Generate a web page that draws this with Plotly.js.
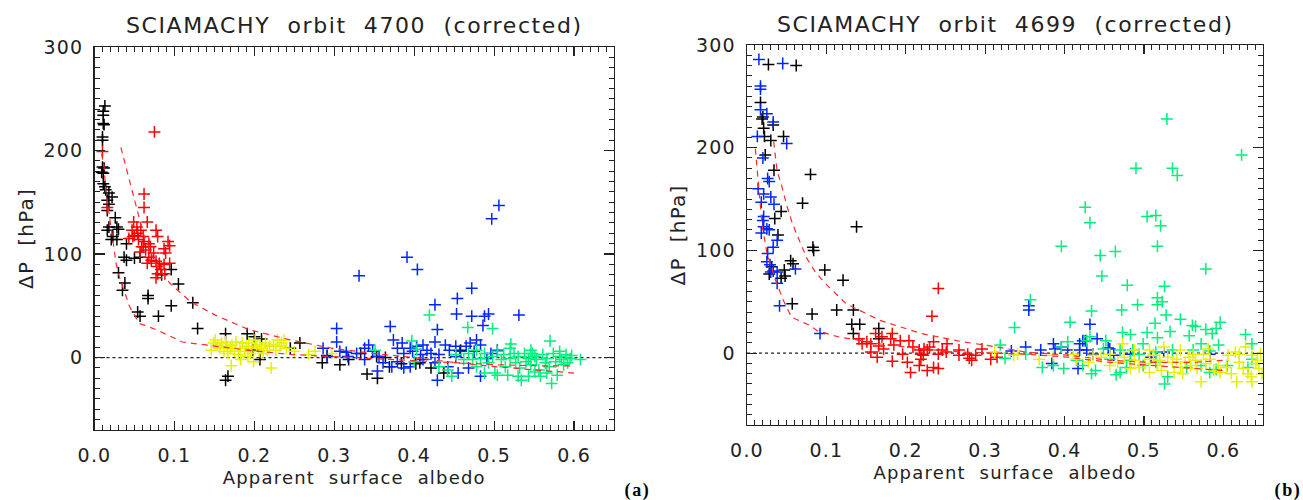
<!DOCTYPE html>
<html>
<head>
<meta charset="utf-8">
<script src="https://cdn.plot.ly/plotly-3.0.1.min.js"></script>
<style>
html,body{margin:0;padding:0;background:#fff}
#chart{width:1303px;height:500px}
#chart text{letter-spacing:1.2px}
#chart .annotation-text{letter-spacing:1.6px}
</style>
</head>
<body>
<div id="chart"></div>
<script>
// ---------- Panel (a): orbit 4700 ----------
const a_black = [[0.013,243],[0.011,238],[0.011,234],[0.011,226],[0.012,225],[0.010,213],[0.010,210],[0.010,184],[0.012,183],[0.009,179],[0.011,178],[0.011,168],[0.013,165],[0.014,162],[0.018,159],[0.022,155],[0.016,152],[0.018,148],[0.016,142],[0.018,126],[0.016,123],[0.026,135],[0.028,126],[0.030,124],[0.023,117],[0.021,114],[0.028,114],[0.040,110],[0.037,97],[0.040,94],[0.050,96],[0.057,97],[0.030,82],[0.038,72],[0.035,65],[0.067,60],[0.067,57],[0.054,44],[0.057,40],[0.080,40],[0.096,85],[0.084,80],[0.105,71],[0.096,50],[0.123,53],[0.129,28],[0.164,23],[0.191,23],[0.200,20],[0.209,18],[0.257,14],[0.245,9],[0.198,7],[0.207,-2],[0.164,-22],[0.167,-18],[0.285,-5],[0.291,2],[0.307,-7],[0.318,-2],[0.333,4],[0.341,-16],[0.354,-20],[0.369,-9],[0.384,-6],[0.402,-6],[0.407,-5],[0.421,-10],[0.437,-15],[0.458,7],[0.353,1],[0.364,0]];
const a_red = [[0.075,218],[0.010,199],[0.062,158],[0.062,145],[0.049,131],[0.066,131],[0.047,123],[0.053,126],[0.058,123],[0.050,118],[0.061,117],[0.077,123],[0.079,117],[0.092,112],[0.094,108],[0.048,117],[0.055,114],[0.061,107],[0.064,104],[0.070,107],[0.074,101],[0.068,97],[0.057,102],[0.062,112],[0.087,105],[0.089,101],[0.077,93],[0.081,91],[0.087,90],[0.094,91],[0.078,88],[0.071,94],[0.066,91],[0.079,81],[0.083,85],[0.077,77],[0.088,81],[0.068,110],[0.054,120],[0.059,107],[0.043,115],[0.016,145]];
const a_yellow = [[0.146,7],[0.149,14],[0.151,17],[0.154,12],[0.157,9],[0.159,14],[0.162,6],[0.164,15],[0.166,11],[0.167,4],[0.170,9],[0.171,-8],[0.172,12],[0.175,6],[0.177,15],[0.180,3],[0.182,9],[0.183,-2],[0.185,14],[0.188,6],[0.190,11],[0.192,1],[0.193,14],[0.195,4],[0.197,9],[0.199,-4],[0.201,17],[0.203,11],[0.206,6],[0.207,12],[0.209,9],[0.211,4],[0.214,14],[0.216,7],[0.219,11],[0.221,-10],[0.224,12],[0.227,7],[0.229,17],[0.232,11],[0.234,14],[0.237,17],[0.240,9],[0.250,6],[0.268,3],[0.276,6],[0.297,4]];
const a_blue = [[0.506,147],[0.497,134],[0.391,97],[0.404,85],[0.331,79],[0.472,67],[0.454,57],[0.426,51],[0.453,42],[0.429,27],[0.472,40],[0.488,40],[0.493,42],[0.486,31],[0.531,41],[0.370,30],[0.303,28],[0.303,15],[0.291,1],[0.286,9],[0.307,6],[0.315,5],[0.328,4],[0.338,9],[0.343,12],[0.348,6],[0.356,1],[0.374,17],[0.379,9],[0.385,14],[0.387,4],[0.395,9],[0.398,6],[0.403,11],[0.411,12],[0.416,7],[0.421,4],[0.426,15],[0.439,12],[0.444,7],[0.457,6],[0.465,11],[0.470,14],[0.478,17],[0.483,12],[0.475,6],[0.452,1],[0.442,-9],[0.455,-15],[0.429,-22],[0.468,-10],[0.483,-18],[0.426,-5],[0.411,-2],[0.395,-9],[0.379,-4],[0.372,-9],[0.361,-5],[0.354,-13],[0.338,-2],[0.317,1],[0.387,-10],[0.408,3],[0.431,3],[0.496,4],[0.491,-1],[0.504,7],[0.452,11]];
const a_green = [[0.419,41],[0.467,29],[0.498,28],[0.570,16],[0.397,16],[0.521,13],[0.351,7],[0.403,8],[0.452,3],[0.462,-2],[0.468,4],[0.478,7],[0.483,-1],[0.488,4],[0.493,-5],[0.498,1],[0.504,6],[0.509,-2],[0.512,3],[0.514,-9],[0.517,-17],[0.520,-1],[0.525,4],[0.527,-5],[0.530,1],[0.532,-10],[0.534,-22],[0.538,4],[0.540,-4],[0.543,-1],[0.546,-7],[0.548,4],[0.551,1],[0.553,-2],[0.556,-12],[0.558,-18],[0.561,3],[0.564,-5],[0.566,-1],[0.569,-9],[0.572,-25],[0.574,4],[0.577,-4],[0.579,-17],[0.582,1],[0.584,-2],[0.587,-7],[0.590,3],[0.592,-5],[0.595,-1],[0.597,2],[0.608,-2],[0.501,-15],[0.488,-15],[0.442,-12],[0.447,-18],[0.431,-9],[0.400,-4],[0.478,-9],[0.473,-2],[0.504,-17],[0.530,-18],[0.543,-18],[0.551,-14],[0.566,-15],[0.520,9],[0.546,7],[0.582,6]];
const a_curve_upper = [[0.033,203],[0.048,158],[0.061,120],[0.076,91],[0.094,72],[0.120,54],[0.151,41],[0.193,27],[0.245,17],[0.297,9],[0.348,4],[0.400,0],[0.452,-5],[0.504,-9],[0.556,-12],[0.600,-15]];
const a_curve_lower = [[0.009,197],[0.012,184],[0.014,162],[0.0185,136],[0.027,91],[0.031,78],[0.037,65],[0.044,49],[0.056,33],[0.077,27],[0.110,15],[0.151,11],[0.193,7],[0.245,3],[0.297,1],[0.348,-1],[0.400,-3],[0.452,-5],[0.504,-7],[0.556,-8],[0.597,-8]];

// ---------- Panel (b): orbit 4699 ----------
const b_black = [[0.027,281],[0.062,280],[0.017,244],[0.020,230],[0.019,228],[0.021,219],[0.022,211],[0.030,207],[0.033,222],[0.046,211],[0.023,193],[0.034,178],[0.080,174],[0.070,146],[0.043,138],[0.035,131],[0.039,115],[0.138,123],[0.083,103],[0.084,100],[0.098,81],[0.055,90],[0.058,87],[0.047,81],[0.048,75],[0.043,73],[0.031,84],[0.028,77],[0.121,71],[0.057,48],[0.082,38],[0.113,42],[0.134,42],[0.132,28],[0.142,28],[0.134,19],[0.166,24],[0.166,14]];
const b_blue = [[0.015,286],[0.045,282],[0.017,260],[0.017,257],[0.013,211],[0.050,204],[0.017,237],[0.025,233],[0.033,225],[0.020,190],[0.026,170],[0.028,167],[0.014,160],[0.030,152],[0.021,155],[0.034,145],[0.018,147],[0.021,133],[0.020,129],[0.021,123],[0.028,120],[0.025,121],[0.018,117],[0.038,110],[0.033,103],[0.025,89],[0.029,86],[0.026,97],[0.033,80],[0.038,79],[0.030,79],[0.038,68],[0.061,82],[0.041,46],[0.092,19],[0.355,42],[0.355,46],[0.333,2],[0.351,6],[0.370,3],[0.386,9],[0.388,4],[0.396,6],[0.404,3],[0.426,12],[0.428,3],[0.432,28],[0.441,14],[0.417,-15],[0.457,4],[0.436,-1],[0.462,-2],[0.483,-1],[0.509,-4],[0.583,-1],[0.525,1],[0.384,-10],[0.419,9],[0.423,12],[0.419,3],[0.455,5]];
const b_red = [[0.241,63],[0.233,36],[0.162,19],[0.170,16],[0.183,19],[0.193,12],[0.204,12],[0.151,11],[0.141,14],[0.145,9],[0.156,9],[0.166,7],[0.172,4],[0.181,14],[0.185,8],[0.209,6],[0.217,3],[0.223,4],[0.230,6],[0.235,11],[0.252,9],[0.246,3],[0.251,1],[0.267,3],[0.278,-1],[0.288,-2],[0.296,4],[0.307,-6],[0.315,-4],[0.164,-4],[0.183,-8],[0.202,-9],[0.206,-19],[0.217,-12],[0.219,-6],[0.222,-2],[0.219,-1],[0.227,-17],[0.235,-14],[0.241,-15],[0.196,-1],[0.267,-2],[0.283,-7],[0.280,-5],[0.241,-1],[0.227,3],[0.156,1]];
const b_green = [[0.529,228],[0.623,193],[0.490,180],[0.536,180],[0.542,173],[0.426,142],[0.432,127],[0.504,133],[0.515,134],[0.521,124],[0.396,104],[0.517,104],[0.445,95],[0.464,99],[0.578,82],[0.447,75],[0.479,66],[0.526,65],[0.357,52],[0.517,54],[0.517,47],[0.523,50],[0.492,47],[0.434,41],[0.472,42],[0.528,37],[0.407,30],[0.337,25],[0.546,33],[0.514,29],[0.533,21],[0.561,27],[0.565,26],[0.473,20],[0.483,18],[0.504,20],[0.517,15],[0.596,30],[0.591,24],[0.578,23],[0.586,19],[0.557,17],[0.628,18],[0.636,9],[0.432,16],[0.428,12],[0.452,12],[0.499,9],[0.572,9],[0.594,8],[0.319,8],[0.404,11],[0.396,6],[0.449,4],[0.470,3],[0.486,3],[0.494,-1],[0.515,1],[0.536,3],[0.562,3],[0.583,2],[0.372,-14],[0.386,-12],[0.399,-15],[0.423,-12],[0.434,-20],[0.439,-17],[0.465,-21],[0.470,-19],[0.526,-30],[0.530,-23],[0.554,-14],[0.583,-19],[0.591,-16],[0.572,-12],[0.515,-9],[0.499,-12],[0.483,-7],[0.478,-14],[0.325,-5],[0.631,-14],[0.636,-6],[0.605,-12],[0.457,-6],[0.415,-7],[0.351,-1]];
const b_yellow = [[0.312,1],[0.336,-2],[0.341,-1],[0.368,-6],[0.386,-2],[0.415,-6],[0.430,-9],[0.446,-4],[0.457,-12],[0.467,-9],[0.473,9],[0.475,-4],[0.488,-7],[0.494,-14],[0.501,-10],[0.507,-6],[0.512,-2],[0.517,-12],[0.520,-7],[0.525,6],[0.530,-4],[0.536,-9],[0.541,-6],[0.546,-14],[0.552,-9],[0.557,-4],[0.559,-12],[0.565,-7],[0.567,-15],[0.572,-28],[0.575,-1],[0.578,-10],[0.581,4],[0.588,-17],[0.594,-12],[0.596,-19],[0.604,-14],[0.610,-20],[0.615,1],[0.617,-28],[0.620,-9],[0.625,-15],[0.628,6],[0.631,-20],[0.635,-23],[0.636,-28],[0.641,-10],[0.645,-15],[0.647,0],[0.649,-20],[0.643,-7],[0.483,-15],[0.507,-19],[0.522,-17],[0.538,-19],[0.549,-20],[0.507,3],[0.488,3],[0.457,-1],[0.436,-2],[0.411,-1],[0.583,-6],[0.606,-2],[0.620,-1],[0.636,-2],[0.546,3],[0.562,-1]];
const b_curve_upper = [[0.0336,206],[0.038,177],[0.043,165],[0.050,144],[0.056,129],[0.063,115],[0.0756,92],[0.086,79],[0.0985,68],[0.125,48],[0.167,32],[0.220,19],[0.272,11],[0.315,6],[0.351,1],[0.404,-2],[0.457,-7],[0.509,-9],[0.562,-9],[0.600,-7]];
const b_curve_lower = [[0.0105,199],[0.0147,164],[0.019,125],[0.025,98],[0.035,73],[0.046,51],[0.056,35],[0.079,27],[0.088,22],[0.114,16],[0.167,9],[0.220,4],[0.272,1],[0.351,-1],[0.404,-4],[0.457,-9],[0.509,-12],[0.562,-15],[0.600,-17]];

const zeroLineX = [0, 0.65];
const xTickVals = [0, 0.1, 0.2, 0.3, 0.4, 0.5, 0.6];
const yTickVals = [0, 100, 200, 300];
const titles = ['SCIAMACHY  orbit  4700  (corrected)', 'SCIAMACHY  orbit  4699  (corrected)'];
const xTitle = 'Apparent  surface  albedo';
const yTitle = 'ΔP  [hPa]';
const panelLabels = ['(a)', '(b)'];

const COL = {black:'#000000', red:'#ff0000', yellow:'#e6f000', blue:'#0026ff', green:'#00f07c'};

function pts(arr, color, xa, ya) {
  return {type:'scatter', mode:'markers', x:arr.map(p=>p[0]), y:arr.map(p=>p[1]), xaxis:xa, yaxis:ya,
    marker:{symbol:'cross-thin', size:8.5, color:color, line:{width:1.5, color:color}}, hoverinfo:'skip', showlegend:false};
}
function curve(arr, xa, ya) {
  return {type:'scatter', mode:'lines', x:arr.map(p=>p[0]), y:arr.map(p=>p[1]), xaxis:xa, yaxis:ya,
    line:{color:'#ff2a2a', width:1.2, dash:'6px,5px'}, hoverinfo:'skip', showlegend:false};
}
function zero(xa, ya) {
  return {type:'scatter', mode:'lines', x:zeroLineX, y:[0,0], xaxis:xa, yaxis:ya,
    line:{color:'#222', width:1.3, dash:'dot'}, hoverinfo:'skip', showlegend:false};
}

const data = [
  zero('x','y'),
  pts(a_black, COL.black, 'x','y'), pts(a_red, COL.red, 'x','y'), pts(a_yellow, COL.yellow, 'x','y'),
  pts(a_blue, COL.blue, 'x','y'), pts(a_green, COL.green, 'x','y'),
  curve(a_curve_upper,'x','y'), curve(a_curve_lower,'x','y'),
  zero('x2','y2'),
  pts(b_black, COL.black, 'x2','y2'), pts(b_blue, COL.blue, 'x2','y2'), pts(b_red, COL.red, 'x2','y2'),
  pts(b_green, COL.green, 'x2','y2'), pts(b_yellow, COL.yellow, 'x2','y2'),
  curve(b_curve_upper,'x2','y2'), curve(b_curve_lower,'x2','y2')
];

const FONT = 'DejaVu Sans, sans-serif';
const TXT = '#222';
function xax(dom, anchor) {
  return {domain:dom, anchor:anchor, range:[0,0.65], tickvals:xTickVals, tickformat:'.1f',
    ticks:'inside', ticklen:9, tickwidth:1.2, tickcolor:TXT, showline:true, linecolor:TXT, linewidth:1.3, mirror:'ticks',
    minor:{dtick:0.01, ticks:'inside', ticklen:5, tickwidth:1, tickcolor:TXT},
    showgrid:false, zeroline:false, ticklabelstandoff:8,
    tickfont:{family:FONT, size:19, color:TXT},
    title:{text:xTitle, font:{family:FONT, size:18, color:TXT}, standoff:6}};
}
function yax(dom, anchor) {
  return {domain:dom, anchor:anchor, range:[-70,300], tickvals:yTickVals,
    ticks:'inside', ticklen:10, tickwidth:1.2, tickcolor:TXT, showline:true, linecolor:TXT, linewidth:1.3, mirror:'ticks',
    minor:{dtick:10, ticks:'inside', ticklen:5, tickwidth:1, tickcolor:TXT},
    showgrid:false, zeroline:false, ticklabelstandoff:6,
    tickfont:{family:FONT, size:19, color:TXT},
    title:{text:yTitle, font:{family:FONT, size:20, color:TXT}, standoff:8}};
}

const layout = {
  width:1303, height:500, margin:{l:0, r:0, t:0, b:0}, paper_bgcolor:'#fff', plot_bgcolor:'#fff',
  showlegend:false,
  xaxis: xax([94.5/1303, 614/1303], 'y'),
  yaxis: yax([1-430/500, 1-47/500], 'x'),
  xaxis2: xax([747/1303, 1263/1303], 'y2'),
  yaxis2: yax([1-425/500, 1-45/500], 'x2'),
  annotations: [
    {text:titles[0], xref:'paper', yref:'paper', x:354/1303, y:1-25/500, xanchor:'center', yanchor:'middle', showarrow:false, font:{family:FONT, size:22, color:TXT}},
    {text:titles[1], xref:'paper', yref:'paper', x:1005/1303, y:1-24/500, xanchor:'center', yanchor:'middle', showarrow:false, font:{family:FONT, size:22, color:TXT}},
    {text:'<b>'+panelLabels[0]+'</b>', xref:'paper', yref:'paper', x:637/1303, y:1-490/500, xanchor:'center', yanchor:'middle', showarrow:false, font:{family:'Liberation Serif, serif', size:18, color:'#000'}},
    {text:'<b>'+panelLabels[1]+'</b>', xref:'paper', yref:'paper', x:1288/1303, y:1-490/500, xanchor:'center', yanchor:'middle', showarrow:false, font:{family:'Liberation Serif, serif', size:18, color:'#000'}}
  ]
};

Plotly.newPlot('chart', data, layout, {displayModeBar:false, staticPlot:true});
</script>
</body>
</html>
